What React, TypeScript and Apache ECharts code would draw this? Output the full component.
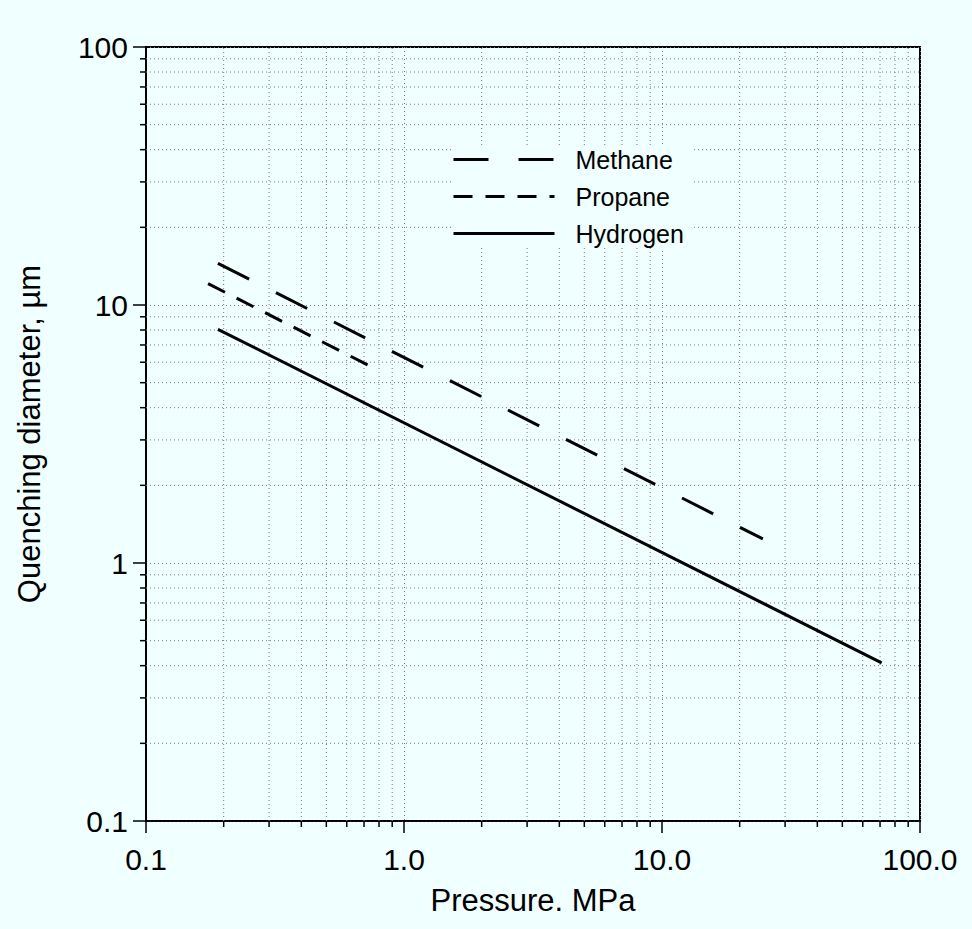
import React, { useEffect, useRef } from 'react';
import * as echarts from 'echarts';

const seriesNames = ['Methane', 'Propane', 'Hydrogen'];
const methanePressure = [0.19, 24.6];
const methaneDiameter = [14.5, 1.24];
const propanePressure = [0.174, 0.725];
const propaneDiameter = [12.1, 5.85];
const hydrogenPressure = [0.19, 71];
const hydrogenDiameter = [8.05, 0.41];

const xMajorTicks = [0.1, 1, 10, 100];
const xTickLabels = ['0.1', '1.0', '10.0', '100.0'];
const yMajorTicks = [0.1, 1, 10, 100];
const yTickLabels = ['0.1', '1', '10', '100'];
const minorMultipliers = [2, 3, 4, 5, 6, 7, 8, 9];
const decades = [0.1, 1, 10];

const AXIS_MIN = 0.1;
const AXIS_MAX = 100;
const FONT = 'Liberation Sans, Arial, sans-serif';

const minorValues: number[] = [];
decades.forEach((d) => minorMultipliers.forEach((m) => minorValues.push(+(d * m).toPrecision(6))));

function labelFor(v: number, ticks: number[], labels: string[]) {
  const i = ticks.findIndex((t) => Math.abs(Math.log10(t) - Math.log10(v)) < 1e-6);
  return i >= 0 ? labels[i] : '';
}

const GRID_COLOR = '#7a7a7a';

export default function App() {
  const ref = useRef<HTMLDivElement>(null);
  useEffect(() => {
    document.body.style.margin = '0';
    document.body.style.background = '#f0ffff';
    if (!ref.current) return;
    const chart = echarts.init(ref.current, null, { renderer: 'svg' });
    const lineSeries = (name: string, xs: number[], ys: number[], dash: any) => ({
      name,
      type: 'line',
      data: xs.map((x, i) => [x, ys[i]]),
      symbol: 'none',
      showSymbol: false,
      z: 5,
      lineStyle: { color: '#000', width: 3, type: dash, cap: 'butt' },
      itemStyle: { color: '#000' },
    });
    chart.setOption({
      animation: false,
      backgroundColor: '#f0ffff',
      grid: {
        left: 146,
        top: 47,
        width: 774,
        height: 774,
        show: true,
        borderColor: '#000',
        borderWidth: 2,
        backgroundColor: 'transparent',
      },
      legend: {
        data: seriesNames,
        orient: 'vertical',
        left: 452,
        top: 145,
        itemWidth: 101,
        itemHeight: 14,
        itemGap: 12,
        backgroundColor: '#f0ffff',
        padding: [2, 8, 2, 0],
        itemStyle: { opacity: 0 },
        lineStyle: { width: 3, color: '#000' },
        textStyle: { fontFamily: FONT, fontSize: 25, color: '#000', padding: [0, 0, 0, 16] },
      },
      xAxis: {
        type: 'log',
        logBase: 10,
        min: AXIS_MIN,
        max: AXIS_MAX,
        name: 'Pressure. MPa',
        nameLocation: 'middle',
        nameGap: 64,
        nameTextStyle: { fontFamily: FONT, fontSize: 31, color: '#000' },
        axisLine: { show: true, lineStyle: { color: '#000', width: 1.5 } },
        axisTick: { show: true, inside: false, length: 12, lineStyle: { color: '#000', width: 1.5 } },
        axisLabel: {
          fontFamily: FONT,
          fontSize: 30,
          color: '#000',
          margin: 23,
          formatter: (v: number) => labelFor(v, xMajorTicks, xTickLabels),
        },
        splitLine: { show: true, lineStyle: { color: GRID_COLOR, width: 1, type: [1, 3] } },
      },
      yAxis: {
        type: 'log',
        logBase: 10,
        min: AXIS_MIN,
        max: AXIS_MAX,
        name: 'Quenching diameter, µm',
        nameLocation: 'middle',
        nameRotate: 90,
        nameGap: 101,
        nameTextStyle: { fontFamily: FONT, fontSize: 31, color: '#000' },
        axisLine: { show: true, lineStyle: { color: '#000', width: 2 } },
        axisTick: { show: true, inside: false, length: 13, lineStyle: { color: '#000', width: 1.5 } },
        axisLabel: {
          fontFamily: FONT,
          fontSize: 30,
          color: '#000',
          margin: 18,
          formatter: (v: number) => labelFor(v, yMajorTicks, yTickLabels),
        },
        splitLine: { show: true, lineStyle: { color: GRID_COLOR, width: 1, type: [1, 3] } },
      },
      series: [
        {
          name: 'xMinorGrid',
          type: 'custom',
          silent: true,
          clip: false,
          z: 1,
          data: minorValues.map((v) => [v, 1]),
          renderItem: (_params: any, api: any) => {
            const v = api.value(0);
            const b = api.coord([v, AXIS_MIN]);
            const t = api.coord([v, AXIS_MAX]);
            return {
              type: 'group',
              children: [
                { type: 'line', shape: { x1: b[0], y1: b[1], x2: t[0], y2: t[1] }, style: { stroke: GRID_COLOR, lineWidth: 1, lineDash: [1, 3] } },
                { type: 'line', shape: { x1: b[0], y1: b[1], x2: b[0], y2: b[1] + 6 }, style: { stroke: '#000', lineWidth: 1.5 } },
              ],
            };
          },
        },
        {
          name: 'yMinorGrid',
          type: 'custom',
          silent: true,
          clip: false,
          z: 1,
          data: minorValues.map((v) => [1, v]),
          renderItem: (_params: any, api: any) => {
            const v = api.value(1);
            const l = api.coord([AXIS_MIN, v]);
            const r = api.coord([AXIS_MAX, v]);
            return {
              type: 'group',
              children: [
                { type: 'line', shape: { x1: l[0], y1: l[1], x2: r[0], y2: r[1] }, style: { stroke: GRID_COLOR, lineWidth: 1, lineDash: [1, 3] } },
                { type: 'line', shape: { x1: l[0] - 6, y1: l[1], x2: l[0], y2: l[1] }, style: { stroke: '#000', lineWidth: 1.5 } },
              ],
            };
          },
        },
        lineSeries('Methane', methanePressure, methaneDiameter, [35, 30]),
        lineSeries('Propane', propanePressure, propaneDiameter, [19, 13]),
        lineSeries('Hydrogen', hydrogenPressure, hydrogenDiameter, 'solid'),
      ],
    });
    return () => chart.dispose();
  }, []);
  return <div ref={ref} style={{ width: 972, height: 929 }} />;
}
